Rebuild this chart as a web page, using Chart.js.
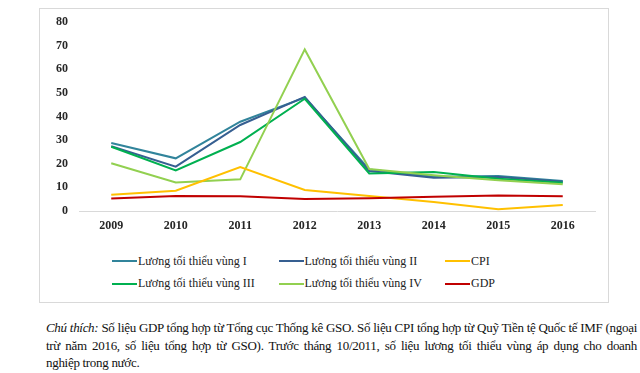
<!DOCTYPE html>
<html lang="vi">
<head>
	<meta charset="UTF-8">
	<title>Lương tối thiểu, CPI và GDP</title>
	<style>
		body {
			margin: 0;
			width: 640px;
			height: 373px;
			position: relative;
			background: white;
			font-family: "Liberation Serif", serif;
			overflow: hidden;
		}

		.box {
			position: absolute;
			left: 39px;
			top: 8px;
			width: 568px;
			height: 293px;
			border: 1px solid #d9d9d9;
		}

		#chart {
			position: absolute;
			left: 0;
			top: 0;
		}

		#legend {
			position: absolute;
			left: 112px;
			top: 250px;
			display: grid;
			grid-template-columns: 166.5px 166.5px 120px;
			grid-auto-rows: 22.5px;
			font-size: 12px;
			color: #222;
		}

		#legend .item {
			display: flex;
			align-items: center;
		}

		#legend .swatch {
			width: 25px;
			height: 2px;
			margin-right: 1px;
		}

		.caption {
			position: absolute;
			left: 46px;
			top: 319px;
			width: 591px;
			font-size: 13px;
			letter-spacing: -0.3px;
			line-height: 17.5px;
			color: #111;
		}

		.caption div {
			white-space: nowrap;
			text-align: justify;
			text-align-last: justify;
		}

		.caption div.last {
			text-align-last: left;
		}
	</style>
	<script src="https://cdn.jsdelivr.net/npm/chart.js"></script>
</head>
<body>
<div class="box"></div>
<canvas id="chart" width="640" height="240"></canvas>
<div id="legend"></div>
<div class="caption">
	<div><i>Chú thích:</i> Số liệu GDP tổng hợp từ Tổng cục Thống kê GSO. Số liệu CPI tổng hợp từ Quỹ Tiền tệ Quốc tế IMF (ngoại</div>
	<div>trừ năm 2016, số liệu tổng hợp từ GSO). Trước tháng 10/2011, số liệu lương tối thiểu vùng áp dụng cho doanh</div>
	<div class="last">nghiệp trong nước.</div>
</div>
<script>
	const years = ['2009', '2010', '2011', '2012', '2013', '2014', '2015', '2016'];

	// số liệu (%)
	const vung1 = [28.8, 22.3, 37.8, 48.0, 17.6, 14.5, 14.8, 12.7];
	const vung2 = [27.4, 18.8, 36.4, 48.3, 16.9, 14.1, 14.4, 12.4];
	const vung3 = [27.2, 17.2, 29.2, 47.5, 15.9, 16.5, 13.7, 12.0];
	const vung4 = [20.2, 12.1, 13.4, 68.4, 17.8, 15.1, 13.0, 11.3];
	const cpi = [6.9, 8.6, 18.6, 8.9, 6.3, 3.8, 0.7, 2.5];
	const gdp = [5.3, 6.3, 6.2, 5.1, 5.4, 6.0, 6.6, 6.2];

	const yTicks = [0, 10, 20, 30, 40, 50, 60, 70, 80];

	const series = [
		{ label: 'Lương tối thiểu vùng I', data: vung1, color: '#31849B' },
		{ label: 'Lương tối thiểu vùng II', data: vung2, color: '#365F91' },
		{ label: 'CPI', data: cpi, color: '#FFC000' },
		{ label: 'Lương tối thiểu vùng III', data: vung3, color: '#00B050' },
		{ label: 'Lương tối thiểu vùng IV', data: vung4, color: '#92D050' },
		{ label: 'GDP', data: gdp, color: '#C00000' }
	];

	// thứ tự vẽ như Excel: chuỗi sau nằm trên
	const drawOrder = ['Lương tối thiểu vùng I', 'Lương tối thiểu vùng II', 'Lương tối thiểu vùng III',
		'Lương tối thiểu vùng IV', 'CPI', 'GDP'];

	const tickFont = { family: 'Liberation Serif', size: 12, weight: 'bold' };

	const chart = new Chart(document.getElementById('chart'), {
		type: 'line',
		data: {
			labels: years,
			datasets: series.map(s => ({
				label: s.label,
				data: s.data,
				borderColor: s.color,
				backgroundColor: s.color,
				borderWidth: 2,
				pointRadius: 0,
				tension: 0,
				order: drawOrder.length - drawOrder.indexOf(s.label)
			}))
		},
		options: {
			responsive: false,
			animation: false,
			devicePixelRatio: 1,
			layout: { padding: { top: 22, right: 45, left: 0, bottom: 0 } },
			plugins: {
				legend: { display: false },
				tooltip: { enabled: false }
			},
			scales: {
				x: {
					offset: true,
					grid: { display: false, drawTicks: false },
					border: { display: true, color: '#d9d9d9', width: 1 },
					ticks: { color: '#262626', font: tickFont, padding: 8 },
					afterFit: scale => { scale.height = 29; }
				},
				y: {
					min: 0,
					max: 80,
					afterBuildTicks: scale => { scale.ticks = yTicks.map(v => ({ value: v })); },
					grid: { display: false, drawTicks: false },
					border: { display: false },
					ticks: { color: '#262626', font: tickFont, padding: 11 },
					afterFit: scale => { scale.width = 79; }
				}
			}
		}
	});

	// chú giải 3 cột
	const legend = document.getElementById('legend');
	chart.data.datasets.forEach(ds => {
		const item = document.createElement('div');
		item.className = 'item';
		const sw = document.createElement('span');
		sw.className = 'swatch';
		sw.style.background = ds.borderColor;
		item.appendChild(sw);
		item.appendChild(document.createTextNode(ds.label));
		legend.appendChild(item);
	});
</script>
</body>
</html>
